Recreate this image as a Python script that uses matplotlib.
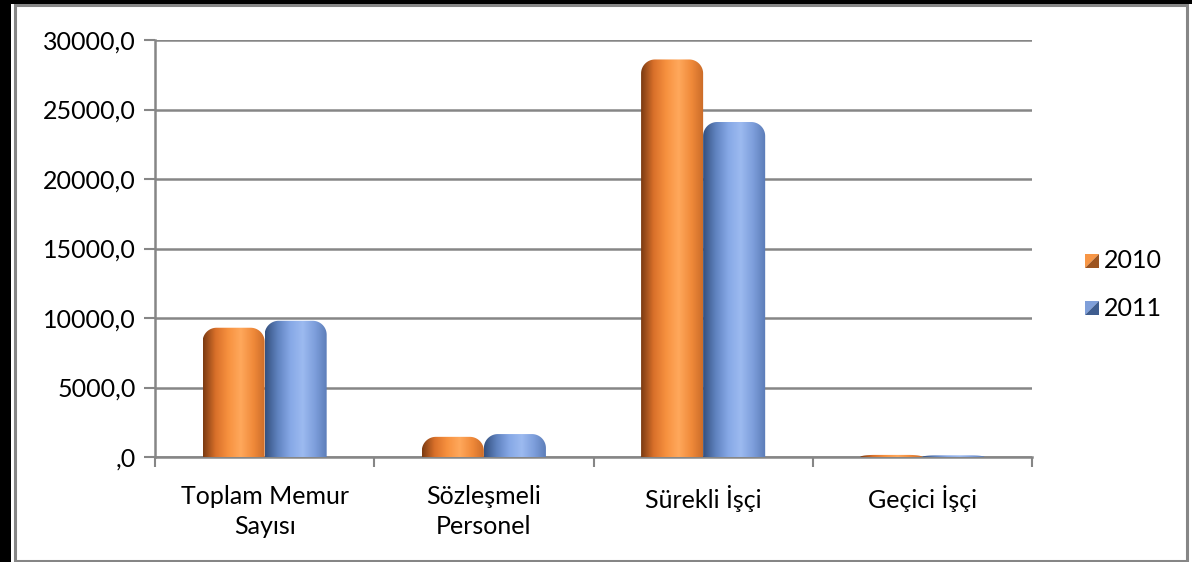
import matplotlib
matplotlib.use("Agg")
import matplotlib.pyplot as plt
import numpy as np
from matplotlib.patches import PathPatch, Rectangle, Polygon
from matplotlib.path import Path
from matplotlib.colors import LinearSegmentedColormap

kategoriler = ["Toplam Memur\nSayısı", "Sözleşmeli\nPersonel", "Sürekli İşçi", "Geçici İşçi"]
yillar = ["2010", "2011"]
deger_2010 = [9300, 1450, 28600, 150]
deger_2011 = [9800, 1650, 24100, 120]
y_ticks = [0, 5000, 10000, 15000, 20000, 25000, 30000]
y_etiket = [",0", "5000,0", "10000,0", "15000,0", "20000,0", "25000,0", "30000,0"]

renkler = {
    "2010": ["#7a3a12", "#d9702a", "#f7913f", "#ffa85c", "#f08a3a", "#c96a28"],
    "2011": ["#34507e", "#5f82bf", "#86a8e6", "#9cbaf0", "#7d9edb", "#5a7bb6"],
}
leg_renk = {"2010": ("#f79646", "#9c5420"), "2011": ("#7f9fd9", "#3f5d8f")}

plt.rcParams['font.family'] = ['Lato', 'DejaVu Sans']
FS = 18

fig = plt.figure(figsize=(11.92, 5.62), dpi=100)
ax = fig.add_axes([155/1192, 105/562, 877/1192, 417/562])

x = np.arange(len(kategoriler))
w = 0.283

px_x = 877 / 4.0        # piksel / x birimi
px_y = 417 / 30000.0    # piksel / y birimi


def gradyan_bar(ax, rect, renk_listesi, r_px=14):
    x0, y0 = rect.get_x(), rect.get_y()
    bw, bh = rect.get_width(), rect.get_height()
    rect.set_visible(False)
    cmap = LinearSegmentedColormap.from_list("g", renk_listesi)
    grad = np.linspace(0, 1, 256).reshape(1, -1)
    im = ax.imshow(grad, cmap=cmap, aspect="auto", extent=(x0, x0 + bw, y0, y0 + bh),
                   origin="lower", zorder=3, interpolation="bicubic")
    # ust koseler yuvarlak (elips yay)
    rx = r_px / px_x
    ry = min(r_px / px_y, bh)
    top = y0 + bh
    x1 = x0 + bw
    t = np.linspace(0, np.pi / 2, 20)
    sol = np.column_stack([x0 + rx - rx * np.cos(t), top - ry + ry * np.sin(t)])
    sag = np.column_stack([x1 - rx + rx * np.sin(t), top - ry + ry * np.cos(t)])
    verts = np.vstack([[[x0, y0]], sol, sag, [[x1, y0]], [[x0, y0]]])
    clip = PathPatch(Path(verts, closed=True), transform=ax.transData,
                     facecolor="none", edgecolor="none")
    ax.add_patch(clip)
    im.set_clip_path(clip)


b1 = ax.bar(x - w / 2, deger_2010, w, label="2010", zorder=3)
b2 = ax.bar(x + w / 2, deger_2011, w, label="2011", zorder=3)
for r in b1:
    gradyan_bar(ax, r, renkler["2010"])
for r in b2:
    gradyan_bar(ax, r, renkler["2011"])

ax.set_xlim(-0.5, len(kategoriler) - 0.5)
ax.set_ylim(0, 30000)
ax.set_yticks(y_ticks)
ax.set_yticklabels(y_etiket, fontsize=FS)
ax.set_xticks(x)
ax.set_xticklabels(kategoriler, fontsize=FS, linespacing=1.38)
ax.set_xticks(np.arange(len(kategoriler) + 1) - 0.5, minor=True)
ax.tick_params(axis="x", which="major", length=0, pad=20)
ax.tick_params(axis="x", which="minor", length=7, width=1.5, color="#868686")
ax.tick_params(axis="y", length=8, width=1.5, color="#868686", pad=6)

ax.grid(axis="y", color="#868686", linewidth=1.8, zorder=0)
ax.set_axisbelow(True)
for s in ["top", "right"]:
    ax.spines[s].set_visible(False)
ax.spines["left"].set_color("#868686")
ax.spines["left"].set_linewidth(1.8)
ax.spines["bottom"].set_color("#868686")
ax.spines["bottom"].set_linewidth(1.8)

# lejant
for i, yil in enumerate(yillar):
    yy = 1 - (261 + 47 * i) / 562
    xx = 1085 / 1192
    s = 14 / 1192
    sh = 14 / 562
    ust, alt = leg_renk[yil]
    fig.patches.append(Polygon([[xx, yy - sh / 2], [xx, yy + sh / 2], [xx + s, yy + sh / 2]],
                               closed=True, transform=fig.transFigure, facecolor=ust, edgecolor="none"))
    fig.patches.append(Polygon([[xx, yy - sh / 2], [xx + s, yy - sh / 2], [xx + s, yy + sh / 2]],
                               closed=True, transform=fig.transFigure, facecolor=alt, edgecolor="none"))
    fig.text(xx + s + 5 / 1192, yy, yil, fontsize=FS, va="center", ha="left")

# cerceveler
fig.patches.append(Rectangle((15 / 1192, 1 / 562), 1172 / 1192, 556 / 562, transform=fig.transFigure,
                             fill=False, edgecolor="#868686", linewidth=2.2))
fig.patches.append(Rectangle((0, 558 / 562), 1, 4 / 562, transform=fig.transFigure,
                             facecolor="black", edgecolor="none"))
fig.patches.append(Rectangle((0, 0), 11 / 1192, 1, transform=fig.transFigure,
                             facecolor="black", edgecolor="none"))

fig.savefig("out.png", dpi=100)
